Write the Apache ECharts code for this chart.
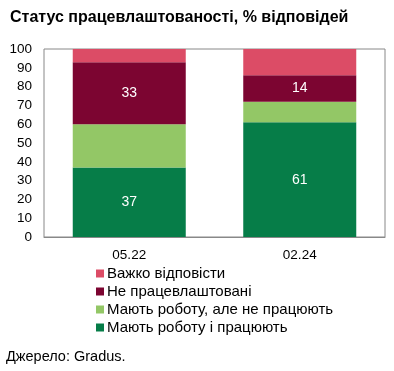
<!DOCTYPE html>
<html><head><meta charset="utf-8">
<script src="https://cdn.jsdelivr.net/npm/echarts@6/dist/echarts.min.js"></script>
<style>html,body{margin:0;padding:0;background:#fff}#c{width:394px;height:371px}</style>
</head><body><div id="c"></div>
<script>
const categories = ['05.22', '02.24'];
const workingEmployed = [37, 61];
const employedNotWorking = [23, 11];
const unemployed = [33, 14];
const hardToSay = [7, 14];
const yTicks = [0, 10, 20, 30, 40, 50, 60, 70, 80, 90, 100];

const names = ['Мають роботу і працюють', 'Мають роботу, але не працюють', 'Не працевлаштовані', 'Важко відповісти'];
const colors = ['#067D48', '#93C766', '#7C0531', '#DC4C66'];
const datasets = [workingEmployed, employedNotWorking, unemployed, hardToSay];
const showLbl = [true, false, true, false];
const font = 'Liberation Sans, Arial, sans-serif';

const chart = echarts.init(document.getElementById('c'));
chart.setOption({
  animation: false,
  title: {text: 'Статус працевлаштованості, % відповідей', left: 5, top: 5,
    textStyle: {fontFamily: font, fontSize: 16, fontWeight: 'bold', color: '#000'}},
  grid: {left: 44, right: 9, top: 49, bottom: 134, show: true, borderColor: '#888', borderWidth: 1},
  legend: {orient: 'vertical', left: 91, top: 261, itemWidth: 8, itemHeight: 8, itemGap: 3,
    data: names.slice().reverse(), icon: 'rect',
    textStyle: {fontFamily: font, fontSize: 15, lineHeight: 15, color: '#000', padding: [0,0,0,-2]}},
  graphic: [{type: 'text', left: 6, top: 349, style: {text: 'Джерело: Gradus.', font: '14.5px ' + font, fill: '#000'}}],
  xAxis: {type: 'category', data: categories,
    axisLine: {lineStyle: {color: '#888'}},
    axisTick: {inside: true, length: 4, lineStyle: {color: '#888'}},
    axisLabel: {fontFamily: font, fontSize: 13.5, color: '#000', margin: 11}},
  yAxis: {type: 'value', min: 0, max: 100, interval: 10,
    axisLine: {show: false}, axisTick: {show: false}, splitLine: {show: false},
    axisLabel: {fontFamily: font, fontSize: 13.5, color: '#000', margin: 12,
      formatter: v => yTicks.includes(v) ? String(v) : ''}},
  series: datasets.map((d, i) => ({
    type: 'bar', name: names[i], stack: 'a', data: d, barWidth: 113,
    itemStyle: {color: colors[i]},
    label: {show: showLbl[i], position: 'inside', color: '#fff', fontFamily: font, fontSize: 14}
  }))
});
</script></body></html>
